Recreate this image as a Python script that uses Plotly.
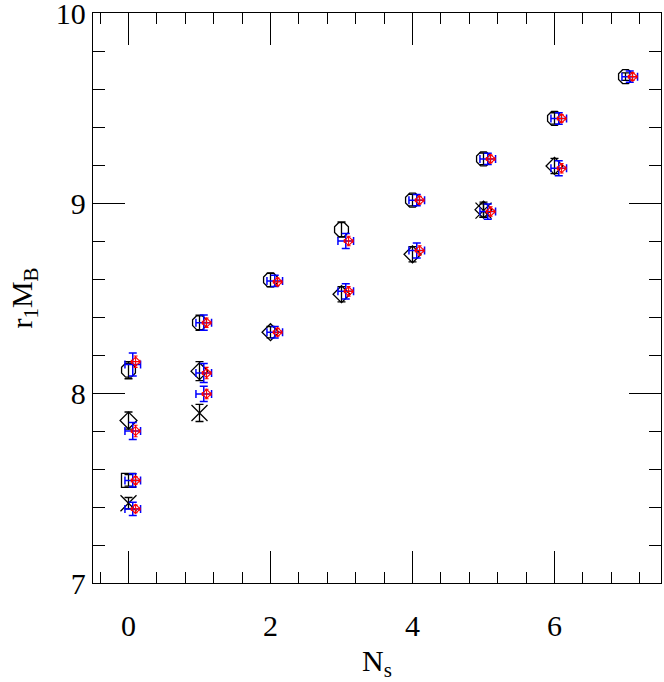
import plotly.graph_objects as go

# ---------------- data ----------------
# black points (x = N_s)
oct_n = [0, 1, 2, 3, 4, 5, 6, 7]
oct_y = [8.12, 8.37, 8.595, 8.86, 9.015, 9.232, 9.445, 9.665]
oct_err = [0.045, 0.04, 0.035, 0.04, 0.03, 0.03, 0.03, 0.02]

dia_n = [0, 1, 2, 3, 4, 5, 6]
dia_y = [7.855, 8.115, 8.32, 8.52, 8.73, 8.965, 9.195]
dia_err = [0.045, 0.05, 0.03, 0.04, 0.04, 0.04, 0.04]

sq_n = [0]
sq_y = [7.54]
sq_err = [0.03]

cross_n = [0, 1, 5]
cross_y = [7.42, 7.895, 8.96]
cross_err = [0.03, 0.045, 0.035]

# blue points
blue_n = [0, 1, 2, 3, 4, 5, 6, 7, 0, 1, 2, 3, 4, 5, 6, 0, 0, 1]
blue_y = [8.15, 8.37, 8.59, 8.80, 9.015, 9.232, 9.445, 9.665,
          7.80, 8.105, 8.32, 8.535, 8.75, 8.955, 9.183,
          7.54, 7.39, 7.995]
blue_err = [0.06, 0.04, 0.03, 0.04, 0.03, 0.03, 0.03, 0.03,
            0.045, 0.05, 0.03, 0.04, 0.04, 0.04, 0.04,
            0.035, 0.035, 0.04]

# red points
red_n = blue_n
red_y = [8.165, 8.37, 8.585, 8.80, 9.015, 9.232, 9.445, 9.665,
         7.80, 8.105, 8.32, 8.535, 8.75, 8.955, 9.183,
         7.54, 7.39, 7.995]
red_err = [0.03, 0.025, 0.02, 0.025, 0.02, 0.02, 0.02, 0.02,
           0.03, 0.03, 0.02, 0.025, 0.025, 0.025, 0.025,
           0.02, 0.02, 0.025]

x_ticks = [0, 2, 4, 6]
y_ticks = [7, 8, 9, 10]

# ---------------- figure ----------------
FONT = "Liberation Serif"
fig = go.Figure()

def black(n, y, err, symbol, size):
    fig.add_trace(go.Scatter(
        x=n, y=y, mode="markers",
        marker=dict(symbol=symbol, size=size, color="black",
                    line=dict(color="black", width=1.3)),
        error_y=dict(type="data", array=err, color="black", thickness=1.3, width=4),
        showlegend=False))

black(oct_n, oct_y, oct_err, "octagon-open", 15)
black(dia_n, dia_y, dia_err, "diamond-open", 13)
black(sq_n, sq_y, sq_err, "square-open", 14)
black(cross_n, cross_y, cross_err, "x-thin-open", 16)

fig.add_trace(go.Scatter(
    x=[v + 0.06 for v in blue_n], y=blue_y, mode="markers",
    marker=dict(symbol="line-ew-open", size=1, color="rgba(0,0,0,0)",
                line=dict(color="rgba(0,0,0,0)", width=0)),
    error_y=dict(type="data", array=blue_err, color="blue", thickness=1.5, width=4),
    error_x=dict(type="constant", value=0.11, color="blue", thickness=1.5, width=4),
    showlegend=False))

fig.add_trace(go.Scatter(
    x=[v + 0.1 for v in red_n], y=red_y, mode="markers",
    marker=dict(symbol="diamond-open", size=7, color="red",
                line=dict(color="red", width=1.1)),
    error_y=dict(type="data", array=red_err, color="red", thickness=1.1, width=2),
    error_x=dict(type="constant", value=0.06, color="red", thickness=1.1, width=2),
    showlegend=False))

axis_common = dict(showline=True, linecolor="black", linewidth=1.3, mirror="allticks",
                   ticks="inside", tickcolor="black", tickwidth=1.3, ticklen=32,
                   showgrid=False, zeroline=False, automargin=False,
                   ticklabeloverflow="allow",
                   tickfont=dict(family=FONT, size=30, color="black"))

fig.update_xaxes(range=[-0.5, 7.5], tickvals=x_ticks, ticktext=[str(v) for v in x_ticks],
                 minor=dict(dtick=0.4, tick0=0, ticks="inside", ticklen=11,
                            tickcolor="black", tickwidth=1.3),
                 ticklabelstandoff=16,
                 title=dict(text="N<sub>s</sub>", font=dict(family=FONT, size=30, color="black"),
                            standoff=12),
                 **axis_common)
fig.update_yaxes(range=[7, 10], tickvals=y_ticks, ticktext=[str(v) for v in y_ticks],
                 minor=dict(dtick=0.2, tick0=7, ticks="inside", ticklen=12,
                            tickcolor="black", tickwidth=1.3),
                 ticklabelstandoff=0,
                 title=dict(text="r<sub>1</sub>M<sub>B</sub>",
                            font=dict(family=FONT, size=30, color="black"), standoff=14),
                 **axis_common)

fig.update_layout(width=664, height=682, margin=dict(l=93, r=3, t=13, b=99),
                  plot_bgcolor="white", paper_bgcolor="white")

fig.write_html("out.html", config={"displayModeBar": False},
               post_script="document.body.style.margin='0';")
